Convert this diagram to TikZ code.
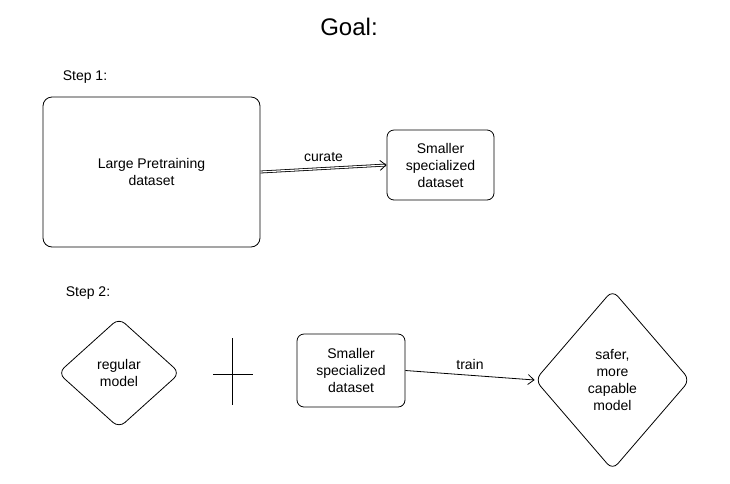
\documentclass[tikz,border=0pt]{standalone}
\usepackage{fontspec}
\setmainfont{Liberation Sans}
\usetikzlibrary{shapes.geometric,arrows.meta}

\tikzset{
  box/.style={draw, thick, rounded corners=9pt, align=center, font=\fontsize{14}{17}\selectfont},
  gem/.style={draw, thick, diamond, rounded corners=8pt, inner sep=0pt, align=center, font=\fontsize{14}{17}\selectfont},
  flow/.style={thick, -{Straight Barb[length=6pt,width=10pt]}},
  tag/.style={font=\fontsize{14}{17}\selectfont}
}

\begin{document}
\begin{tikzpicture}[x=1pt,y=-1pt]
\useasboundingbox (0,0) rectangle (730,483);

\node[font=\fontsize{24}{28}\selectfont] (goal) at (349,27) {Goal:};

% step 1
\node[tag] (step1) at (85,77) {Step 1:};
\node[box, minimum width=217pt, minimum height=150pt] (large) at (151.5,172) {Large Pretraining\\dataset};
\node[box, minimum width=107pt, minimum height=70pt, rounded corners=7pt] (small1) at (440.5,165) {Smaller\\specialized\\dataset};
\draw[flow, double distance=1.2pt] (large.east) -- node[tag, above, yshift=3pt] {curate} (small1.west);

% step 2
\node[tag] (step2) at (88,293) {Step 2:};
\node[gem, minimum width=122pt, minimum height=110pt] (regular) at (119,373) {regular\\model};
\draw[thick] (213,374) -- (253,374) (232,338) -- (232,405);
\node[box, minimum width=108pt, minimum height=73pt, rounded corners=7pt] (small2) at (351,370.5) {Smaller\\specialized\\dataset};
\node[gem, minimum width=155pt, minimum height=180pt] (safer) at (612.5,380) {safer,\\more\\capable\\model};
\draw[flow] (small2.east) -- node[tag, above, yshift=2pt] {train} (safer.west);
\end{tikzpicture}
\end{document}
